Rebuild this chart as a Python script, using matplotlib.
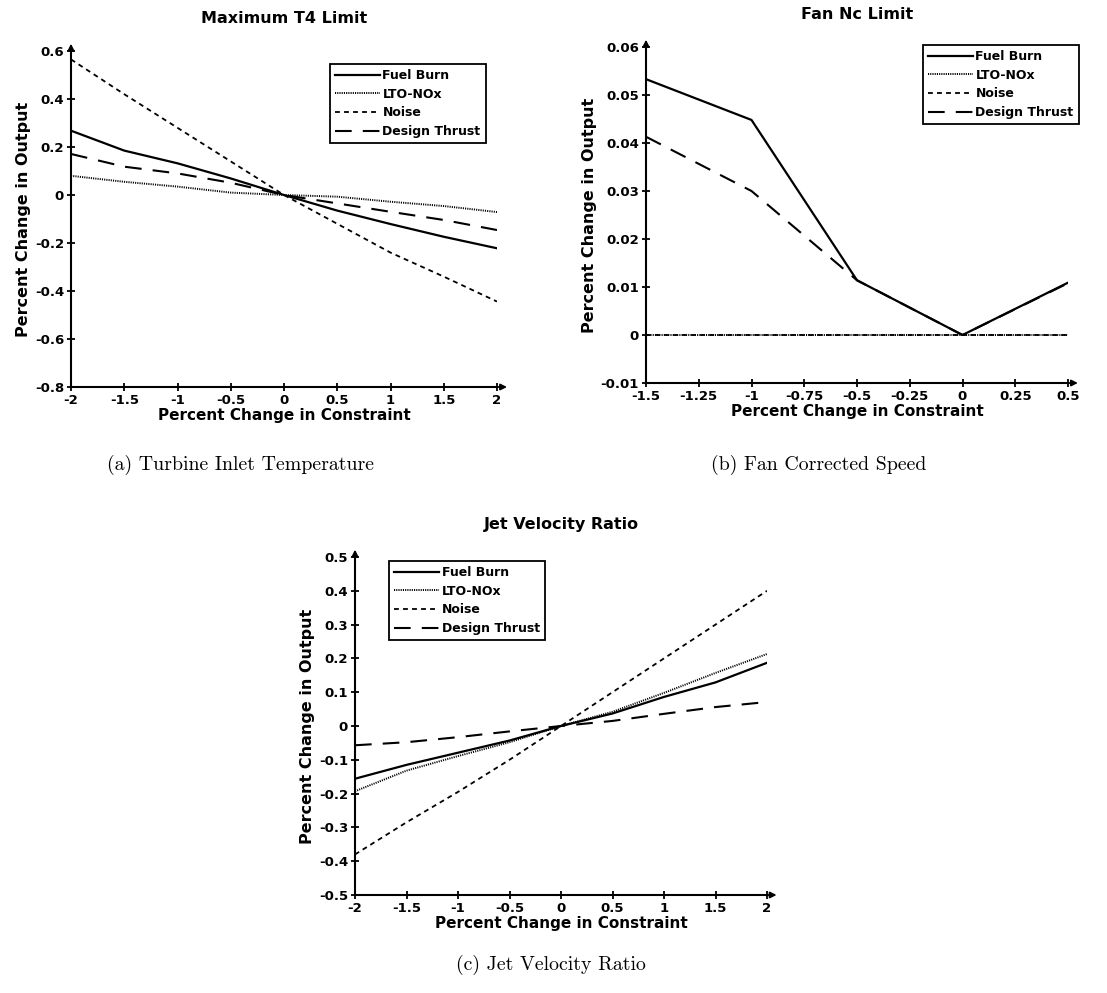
import matplotlib
matplotlib.use("Agg")
import matplotlib.pyplot as plt

# --- data ---
x_t4 = [-2, -1.5, -1, -0.5, 0, 0.5, 1, 1.5, 2]
t4_fuel = [0.268, 0.185, 0.132, 0.069, 0.0, -0.065, -0.121, -0.174, -0.222]
t4_nox = [0.080, 0.055, 0.035, 0.010, 0.0, -0.007, -0.028, -0.046, -0.071]
t4_noise = [0.565, 0.42, 0.28, 0.14, 0.0, -0.12, -0.24, -0.34, -0.444]
t4_thrust = [0.171, 0.118, 0.090, 0.051, 0.0, -0.035, -0.070, -0.104, -0.146]

x_nc = [-1.5, -1, -0.5, 0, 0.5]
nc_fuel = [0.0533, 0.0448, 0.0114, 0.0, 0.0109]
nc_nox = [0.0, 0.0, 0.0, 0.0, 0.0]
nc_noise = [0.0, 0.0, 0.0, 0.0, 0.0]
nc_thrust = [0.0413, 0.0300, 0.0114, 0.0, 0.0108]

x_jv = [-2, -1.5, -1, -0.5, 0, 0.5, 1, 1.5, 2]
jv_fuel = [-0.156, -0.115, -0.079, -0.043, 0.0, 0.037, 0.086, 0.129, 0.187]
jv_nox = [-0.193, -0.132, -0.089, -0.048, 0.0, 0.042, 0.098, 0.157, 0.213]
jv_noise = [-0.38, -0.285, -0.195, -0.10, 0.0, 0.10, 0.20, 0.30, 0.40]
jv_thrust = [-0.057, -0.048, -0.033, -0.016, 0.0, 0.015, 0.036, 0.056, 0.071]

series_names = ["Fuel Burn", "LTO-NOx", "Noise", "Design Thrust"]

t4_xticks = [-2, -1.5, -1, -0.5, 0, 0.5, 1, 1.5, 2]
t4_xlabels = ["-2", "-1.5", "-1", "-0.5", "0", "0.5", "1", "1.5", "2"]
t4_yticks = [-0.8, -0.6, -0.4, -0.2, 0, 0.2, 0.4, 0.6]
t4_ylabels = ["-0.8", "-0.6", "-0.4", "-0.2", "0", "0.2", "0.4", "0.6"]

nc_xticks = [-1.5, -1.25, -1, -0.75, -0.5, -0.25, 0, 0.25, 0.5]
nc_xlabels = ["-1.5", "-1.25", "-1", "-0.75", "-0.5", "-0.25", "0", "0.25", "0.5"]
nc_yticks = [-0.01, 0, 0.01, 0.02, 0.03, 0.04, 0.05, 0.06]
nc_ylabels = ["-0.01", "0", "0.01", "0.02", "0.03", "0.04", "0.05", "0.06"]

jv_xticks = t4_xticks
jv_xlabels = t4_xlabels
jv_yticks = [-0.5, -0.4, -0.3, -0.2, -0.1, 0, 0.1, 0.2, 0.3, 0.4, 0.5]
jv_ylabels = ["-0.5", "-0.4", "-0.3", "-0.2", "-0.1", "0", "0.1", "0.2", "0.3", "0.4", "0.5"]

plt.rcParams["font.family"] = "DejaVu Sans"
plt.rcParams["font.weight"] = "bold"
plt.rcParams["lines.scale_dashes"] = False

W, H = 1107, 993
fig = plt.figure(figsize=(W / 100, H / 100), dpi=100)

styles = [
    dict(linestyle="-", linewidth=1.6),
    dict(linestyle=(0, (0.8, 0.8)), linewidth=1.4),
    dict(linestyle=(0, (3.5, 3.0)), linewidth=1.3),
    dict(linestyle=(0, (12, 8)), linewidth=1.5),
]


def px_rect(l, t, r, b):
    return [l / W, 1 - b / H, (r - l) / W, (b - t) / H]


def make_panel(rect, x, ys, xlim, ylim, xticks, xlabels, yticks, ylabels,
               title, leg_xy, caption, cap_xy):
    ax = fig.add_axes(rect)
    for y, st, name in zip(ys, styles, series_names):
        ax.plot(x, y, color="black", label=name, **st)
    ax.set_xlim(*xlim)
    ax.set_ylim(*ylim)
    ax.set_xticks(xticks)
    ax.set_xticklabels(xlabels, fontsize=9.5, fontweight="bold")
    ax.set_yticks(yticks)
    ax.set_yticklabels(ylabels, fontsize=9.5, fontweight="bold")
    ax.tick_params(direction="inout", length=6, width=1.3, pad=2)
    for s in ["top", "right"]:
        ax.spines[s].set_visible(False)
    for s in ["left", "bottom"]:
        ax.spines[s].set_linewidth(1.5)
    # arrow heads at axis ends
    ax.annotate("", xy=(1.03, 0), xytext=(0.99, 0), xycoords="axes fraction",
                arrowprops=dict(arrowstyle="-|>", color="black", lw=1.3,
                                mutation_scale=9), annotation_clip=False)
    ax.annotate("", xy=(0, 1.03), xytext=(0, 0.99), xycoords="axes fraction",
                arrowprops=dict(arrowstyle="-|>", color="black", lw=1.3,
                                mutation_scale=9), annotation_clip=False)
    ax.set_title(title, fontsize=11.5, fontweight="bold", pad=20)
    ax.set_xlabel("Percent Change in Constraint", fontsize=11, fontweight="bold", labelpad=1)
    ax.set_ylabel("Percent Change in Output", fontsize=11.5, fontweight="bold", labelpad=3)
    leg = ax.legend(loc="upper left", bbox_to_anchor=(leg_xy[0] / W, 1 - leg_xy[1] / H),
                    bbox_transform=fig.transFigure, borderaxespad=0,
                    prop=dict(size=9, weight="bold"), fancybox=False, framealpha=1,
                    edgecolor="black", handlelength=3.6, handletextpad=0.2,
                    labelspacing=0.45, borderpad=0.4)
    leg.get_frame().set_linewidth(1.3)
    fig.text(cap_xy[0] / W, 1 - cap_xy[1] / H, caption, family="cmr10",
             fontsize=14.3, fontweight="normal", ha="center", va="center")
    return ax


make_panel(px_rect(71, 51, 497, 387), x_t4, [t4_fuel, t4_nox, t4_noise, t4_thrust],
           (-2, 2), (-0.8, 0.6), t4_xticks, t4_xlabels, t4_yticks, t4_ylabels,
           "Maximum T4 Limit", (330, 64), "(a) Turbine Inlet Temperature", (240, 465))

make_panel(px_rect(646, 47, 1068, 383), x_nc, [nc_fuel, nc_nox, nc_noise, nc_thrust],
           (-1.5, 0.5), (-0.01, 0.06), nc_xticks, nc_xlabels, nc_yticks, nc_ylabels,
           "Fan Nc Limit", (923, 45), "(b) Fan Corrected Speed", (819, 465))

make_panel(px_rect(355, 557, 767, 895), x_jv, [jv_fuel, jv_nox, jv_noise, jv_thrust],
           (-2, 2), (-0.5, 0.5), jv_xticks, jv_xlabels, jv_yticks, jv_ylabels,
           "Jet Velocity Ratio", (389, 561), "(c) Jet Velocity Ratio", (551, 965))

fig.savefig("out.png", dpi=100)
